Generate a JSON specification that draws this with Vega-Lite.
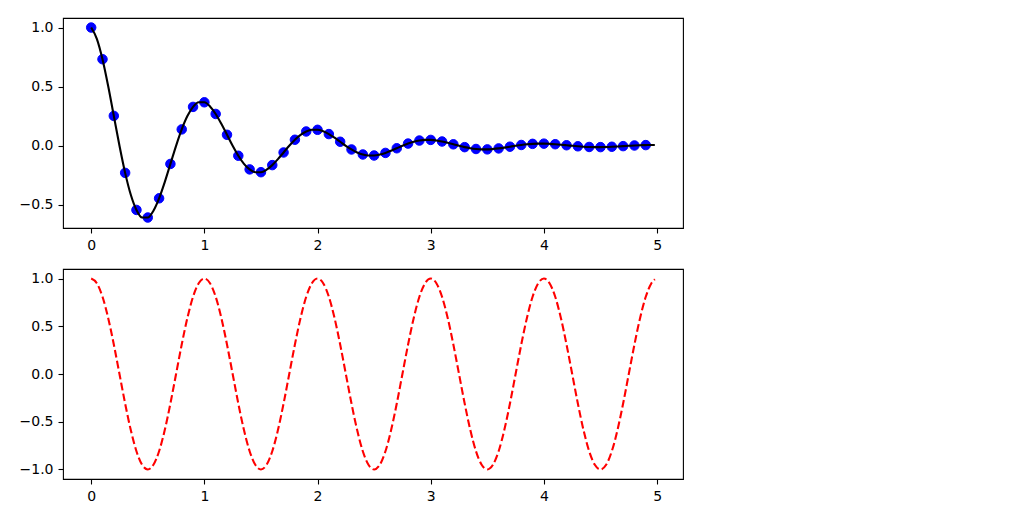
{
  "$schema": "https://vega.github.io/schema/vega-lite/v6.json",
  "padding": {"left": 18, "top": 17, "right": 5, "bottom": 5},
  "background": "white",
  "config": {
    "view": {"stroke": "#000000", "strokeWidth": 1.1},
    "axis": {
      "domain": false,
      "grid": false,
      "ticks": true,
      "tickColor": "#000000",
      "tickSize": 5,
      "tickWidth": 1.1,
      "labelFont": "DejaVu Sans",
      "labelFontSize": 14,
      "labelColor": "#000000",
      "labelPadding": 5,
      "title": null
    }
  },
  "datasets": {
    "pts": [
      {"t": 0.0, "f": 1.0}, {"t": 0.1, "f": 0.7320}, {"t": 0.2, "f": 0.2530}, {"t": 0.3, "f": -0.2289}, {"t": 0.4, "f": -0.5423},
      {"t": 0.5, "f": -0.6065}, {"t": 0.6, "f": -0.4440}, {"t": 0.7, "f": -0.1534}, {"t": 0.8, "f": 0.1388}, {"t": 0.9, "f": 0.3289},
      {"t": 1.0, "f": 0.3679}, {"t": 1.1, "f": 0.2693}, {"t": 1.2, "f": 0.0931}, {"t": 1.3, "f": -0.0842}, {"t": 1.4, "f": -0.1995},
      {"t": 1.5, "f": -0.2231}, {"t": 1.6, "f": -0.1633}, {"t": 1.7, "f": -0.0564}, {"t": 1.8, "f": 0.0511}, {"t": 1.9, "f": 0.1210},
      {"t": 2.0, "f": 0.1353}, {"t": 2.1, "f": 0.0991}, {"t": 2.2, "f": 0.0342}, {"t": 2.3, "f": -0.0310}, {"t": 2.4, "f": -0.0734},
      {"t": 2.5, "f": -0.0821}, {"t": 2.6, "f": -0.0601}, {"t": 2.7, "f": -0.0208}, {"t": 2.8, "f": 0.0188}, {"t": 2.9, "f": 0.0445},
      {"t": 3.0, "f": 0.0498}, {"t": 3.1, "f": 0.0364}, {"t": 3.2, "f": 0.0126}, {"t": 3.3, "f": -0.0114}, {"t": 3.4, "f": -0.0270},
      {"t": 3.5, "f": -0.0302}, {"t": 3.6, "f": -0.0221}, {"t": 3.7, "f": -0.0076}, {"t": 3.8, "f": 0.0069}, {"t": 3.9, "f": 0.0164},
      {"t": 4.0, "f": 0.0183}, {"t": 4.1, "f": 0.0134}, {"t": 4.2, "f": 0.0046}, {"t": 4.3, "f": -0.0042}, {"t": 4.4, "f": -0.0099},
      {"t": 4.5, "f": -0.0111}, {"t": 4.6, "f": -0.0081}, {"t": 4.7, "f": -0.0028}, {"t": 4.8, "f": 0.0025}, {"t": 4.9, "f": 0.0060}
    ],
    "curve": [
      {"t": 0.0, "f": 1.0}, {"t": 0.05, "f": 0.9047}, {"t": 0.1, "f": 0.7320}, {"t": 0.15, "f": 0.5059}, {"t": 0.2, "f": 0.2530}, {"t": 0.25, "f": 0.0},
      {"t": 0.3, "f": -0.2289}, {"t": 0.35, "f": -0.4142}, {"t": 0.4, "f": -0.5423}, {"t": 0.45, "f": -0.6064}, {"t": 0.5, "f": -0.6065},
      {"t": 0.55, "f": -0.5487}, {"t": 0.6, "f": -0.4440}, {"t": 0.65, "f": -0.3069}, {"t": 0.7, "f": -0.1534}, {"t": 0.75, "f": 0.0},
      {"t": 0.8, "f": 0.1388}, {"t": 0.85, "f": 0.2512}, {"t": 0.9, "f": 0.3289}, {"t": 0.95, "f": 0.3678}, {"t": 1.0, "f": 0.3679},
      {"t": 1.05, "f": 0.3328}, {"t": 1.1, "f": 0.2693}, {"t": 1.15, "f": 0.1861}, {"t": 1.2, "f": 0.0931}, {"t": 1.25, "f": 0.0},
      {"t": 1.3, "f": -0.0842}, {"t": 1.35, "f": -0.1524}, {"t": 1.4, "f": -0.1995}, {"t": 1.45, "f": -0.2231}, {"t": 1.5, "f": -0.2231},
      {"t": 1.55, "f": -0.2019}, {"t": 1.6, "f": -0.1633}, {"t": 1.65, "f": -0.1129}, {"t": 1.7, "f": -0.0564}, {"t": 1.75, "f": 0.0},
      {"t": 1.8, "f": 0.0511}, {"t": 1.85, "f": 0.0924}, {"t": 1.9, "f": 0.1210}, {"t": 1.95, "f": 0.1353}, {"t": 2.0, "f": 0.1353},
      {"t": 2.05, "f": 0.1224}, {"t": 2.1, "f": 0.0991}, {"t": 2.15, "f": 0.0685}, {"t": 2.2, "f": 0.0342}, {"t": 2.25, "f": 0.0},
      {"t": 2.3, "f": -0.0310}, {"t": 2.35, "f": -0.0561}, {"t": 2.4, "f": -0.0734}, {"t": 2.45, "f": -0.0821}, {"t": 2.5, "f": -0.0821},
      {"t": 2.55, "f": -0.0743}, {"t": 2.6, "f": -0.0601}, {"t": 2.65, "f": -0.0415}, {"t": 2.7, "f": -0.0208}, {"t": 2.75, "f": 0.0},
      {"t": 2.8, "f": 0.0188}, {"t": 2.85, "f": 0.0340}, {"t": 2.9, "f": 0.0445}, {"t": 2.95, "f": 0.0498}, {"t": 3.0, "f": 0.0498},
      {"t": 3.05, "f": 0.0450}, {"t": 3.1, "f": 0.0364}, {"t": 3.15, "f": 0.0252}, {"t": 3.2, "f": 0.0126}, {"t": 3.25, "f": 0.0},
      {"t": 3.3, "f": -0.0114}, {"t": 3.35, "f": -0.0206}, {"t": 3.4, "f": -0.0270}, {"t": 3.45, "f": -0.0302}, {"t": 3.5, "f": -0.0302},
      {"t": 3.55, "f": -0.0273}, {"t": 3.6, "f": -0.0221}, {"t": 3.65, "f": -0.0153}, {"t": 3.7, "f": -0.0076}, {"t": 3.75, "f": 0.0},
      {"t": 3.8, "f": 0.0069}, {"t": 3.85, "f": 0.0125}, {"t": 3.9, "f": 0.0164}, {"t": 3.95, "f": 0.0183}, {"t": 4.0, "f": 0.0183},
      {"t": 4.05, "f": 0.0166}, {"t": 4.1, "f": 0.0134}, {"t": 4.15, "f": 0.0093}, {"t": 4.2, "f": 0.0046}, {"t": 4.25, "f": 0.0},
      {"t": 4.3, "f": -0.0042}, {"t": 4.35, "f": -0.0076}, {"t": 4.4, "f": -0.0099}, {"t": 4.45, "f": -0.0111}, {"t": 4.5, "f": -0.0111},
      {"t": 4.55, "f": -0.0101}, {"t": 4.6, "f": -0.0081}, {"t": 4.65, "f": -0.0056}, {"t": 4.7, "f": -0.0028}, {"t": 4.75, "f": 0.0},
      {"t": 4.8, "f": 0.0025}, {"t": 4.85, "f": 0.0046}, {"t": 4.9, "f": 0.0060}, {"t": 4.95, "f": 0.0067}, {"t": 4.98, "f": 0.0068}
    ],
    "cosine": [
      {"t": 0.0, "c": 1.0}, {"t": 0.05, "c": 0.9511}, {"t": 0.1, "c": 0.8090}, {"t": 0.15, "c": 0.5878}, {"t": 0.2, "c": 0.3090},
      {"t": 0.25, "c": 0.0}, {"t": 0.3, "c": -0.3090}, {"t": 0.35, "c": -0.5878}, {"t": 0.4, "c": -0.8090}, {"t": 0.45, "c": -0.9511},
      {"t": 0.5, "c": -1.0}, {"t": 0.55, "c": -0.9511}, {"t": 0.6, "c": -0.8090}, {"t": 0.65, "c": -0.5878}, {"t": 0.7, "c": -0.3090},
      {"t": 0.75, "c": 0.0}, {"t": 0.8, "c": 0.3090}, {"t": 0.85, "c": 0.5878}, {"t": 0.9, "c": 0.8090}, {"t": 0.95, "c": 0.9511},
      {"t": 1.0, "c": 1.0}, {"t": 1.05, "c": 0.9511}, {"t": 1.1, "c": 0.8090}, {"t": 1.15, "c": 0.5878}, {"t": 1.2, "c": 0.3090},
      {"t": 1.25, "c": 0.0}, {"t": 1.3, "c": -0.3090}, {"t": 1.35, "c": -0.5878}, {"t": 1.4, "c": -0.8090}, {"t": 1.45, "c": -0.9511},
      {"t": 1.5, "c": -1.0}, {"t": 1.55, "c": -0.9511}, {"t": 1.6, "c": -0.8090}, {"t": 1.65, "c": -0.5878}, {"t": 1.7, "c": -0.3090},
      {"t": 1.75, "c": 0.0}, {"t": 1.8, "c": 0.3090}, {"t": 1.85, "c": 0.5878}, {"t": 1.9, "c": 0.8090}, {"t": 1.95, "c": 0.9511},
      {"t": 2.0, "c": 1.0}, {"t": 2.05, "c": 0.9511}, {"t": 2.1, "c": 0.8090}, {"t": 2.15, "c": 0.5878}, {"t": 2.2, "c": 0.3090},
      {"t": 2.25, "c": 0.0}, {"t": 2.3, "c": -0.3090}, {"t": 2.35, "c": -0.5878}, {"t": 2.4, "c": -0.8090}, {"t": 2.45, "c": -0.9511},
      {"t": 2.5, "c": -1.0}, {"t": 2.55, "c": -0.9511}, {"t": 2.6, "c": -0.8090}, {"t": 2.65, "c": -0.5878}, {"t": 2.7, "c": -0.3090},
      {"t": 2.75, "c": 0.0}, {"t": 2.8, "c": 0.3090}, {"t": 2.85, "c": 0.5878}, {"t": 2.9, "c": 0.8090}, {"t": 2.95, "c": 0.9511},
      {"t": 3.0, "c": 1.0}, {"t": 3.05, "c": 0.9511}, {"t": 3.1, "c": 0.8090}, {"t": 3.15, "c": 0.5878}, {"t": 3.2, "c": 0.3090},
      {"t": 3.25, "c": 0.0}, {"t": 3.3, "c": -0.3090}, {"t": 3.35, "c": -0.5878}, {"t": 3.4, "c": -0.8090}, {"t": 3.45, "c": -0.9511},
      {"t": 3.5, "c": -1.0}, {"t": 3.55, "c": -0.9511}, {"t": 3.6, "c": -0.8090}, {"t": 3.65, "c": -0.5878}, {"t": 3.7, "c": -0.3090},
      {"t": 3.75, "c": 0.0}, {"t": 3.8, "c": 0.3090}, {"t": 3.85, "c": 0.5878}, {"t": 3.9, "c": 0.8090}, {"t": 3.95, "c": 0.9511},
      {"t": 4.0, "c": 1.0}, {"t": 4.05, "c": 0.9511}, {"t": 4.1, "c": 0.8090}, {"t": 4.15, "c": 0.5878}, {"t": 4.2, "c": 0.3090},
      {"t": 4.25, "c": 0.0}, {"t": 4.3, "c": -0.3090}, {"t": 4.35, "c": -0.5878}, {"t": 4.4, "c": -0.8090}, {"t": 4.45, "c": -0.9511},
      {"t": 4.5, "c": -1.0}, {"t": 4.55, "c": -0.9511}, {"t": 4.6, "c": -0.8090}, {"t": 4.65, "c": -0.5878}, {"t": 4.7, "c": -0.3090},
      {"t": 4.75, "c": 0.0}, {"t": 4.8, "c": 0.3090}, {"t": 4.85, "c": 0.5878}, {"t": 4.9, "c": 0.8090}, {"t": 4.95, "c": 0.9511},
      {"t": 4.98, "c": 0.9921}
    ]
  },
  "vconcat": [
    {
      "width": 620,
      "height": 210,
      "layer": [
        {
          "data": {"name": "pts"},
          "mark": {"type": "circle", "color": "#0000ff", "opacity": 1, "size": 90, "stroke": "#0000ff", "strokeWidth": 1},
          "encoding": {
            "x": {"field": "t", "type": "quantitative", "scale": {"domain": [-0.249, 5.229], "nice": false, "zero": false},
                  "axis": {"values": [0, 1, 2, 3, 4, 5], "format": "d"}},
            "y": {"field": "f", "type": "quantitative", "scale": {"domain": [-0.6951, 1.0807], "nice": false, "zero": false},
                  "axis": {"values": [-0.5, 0, 0.5, 1.0], "format": ".1f", "labelExpr": "replace(datum.label, '-', '\u2212')"}}
          }
        },
        {
          "data": {"name": "curve"},
          "mark": {"type": "line", "color": "#000000", "strokeWidth": 2.1, "interpolate": "monotone"},
          "encoding": {
            "x": {"field": "t", "type": "quantitative"},
            "y": {"field": "f", "type": "quantitative"}
          }
        }
      ]
    },
    {
      "width": 620,
      "height": 210,
      "data": {"name": "cosine"},
      "mark": {"type": "line", "color": "#ff0000", "strokeWidth": 2.1, "strokeDash": [7.7, 3.3], "interpolate": "monotone"},
      "encoding": {
        "x": {"field": "t", "type": "quantitative", "scale": {"domain": [-0.249, 5.229], "nice": false, "zero": false},
              "axis": {"values": [0, 1, 2, 3, 4, 5], "format": "d"}},
        "y": {"field": "c", "type": "quantitative", "scale": {"domain": [-1.1, 1.1], "nice": false, "zero": false},
              "axis": {"values": [-1.0, -0.5, 0, 0.5, 1.0], "format": ".1f", "labelExpr": "replace(datum.label, '-', '\u2212')"}}
      }
    }
  ],
  "spacing": 41,
  "bounds": "flush"
}
